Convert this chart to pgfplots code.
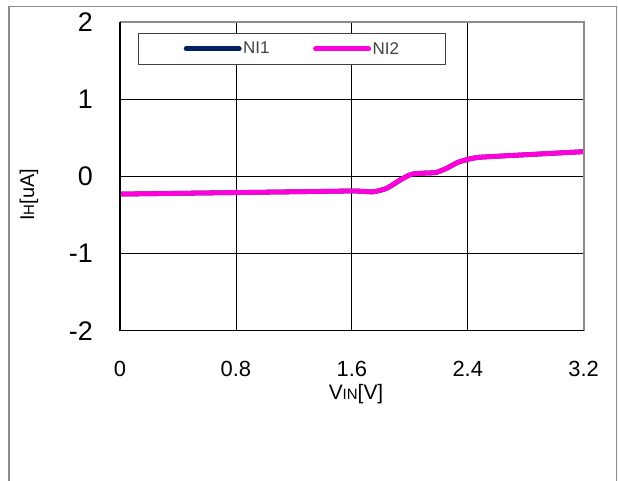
\documentclass[border=0pt]{standalone}
\usepackage{fontspec}
\setmainfont{Liberation Sans}
\usepackage{pgfplots}
\pgfplotsset{compat=1.18}
\definecolor{navyline}{HTML}{002060}
\definecolor{magline}{HTML}{FF00DD}
\definecolor{framegray}{HTML}{8C8C8C}
\begin{document}
\begin{tikzpicture}
\useasboundingbox (0,0) rectangle (618bp,481bp);
\fill[white] (0,0) rectangle (618bp,481bp);
\draw[framegray, line width=1.8bp] (9bp,-5bp) -- (9bp,474.5bp) -- (616.5bp,474.5bp) -- (616.5bp,-5bp);
\begin{axis}[
  at={(120bp,150.3bp)}, anchor=south west,
  scale only axis, width=463.7bp, height=308.7bp,
  xmin=0, xmax=3.2, ymin=-2, ymax=2,
  xtick={0,0.8,1.6,2.4,3.2}, xticklabels={0,0.8,1.6,2.4,3.2},
  ytick={-2,-1,0,1,2}, yticklabels={-2,-1,0,1,2},
  major tick length=0pt,
  grid=major, grid style={black, line width=0.8bp},
  axis line style={draw=none},
  xticklabel style={font=\fontsize{22}{24}\selectfont, anchor=north, inner sep=0pt, yshift=-30bp},
  yticklabel style={font=\fontsize{27}{29}\selectfont, anchor=east, inner sep=0pt, xshift=-27bp},
  xlabel={V{\fontsize{15}{17}\selectfont IN}[V]},
  ylabel={I{\fontsize{15}{17}\selectfont H}[uA]},
  xlabel style={at={(rel axis cs:0.509,0)}, anchor=center, yshift=-63bp, font=\fontsize{21}{23}\selectfont},
  ylabel style={at={(rel axis cs:0,0.44)}, anchor=center, yshift=91bp, font=\fontsize{20}{22}\selectfont},
  legend columns=2,
  legend style={at={(rel axis cs:0.0395,0.965)}, anchor=north west,
    draw=black!75, line width=0.8bp, fill=white,
    inner xsep=45bp, inner ysep=7.5bp,
    font=\fontsize{17}{19}\selectfont, text=black!75,
    nodes={inner sep=1.5bp},
    /tikz/every even column/.append style={column sep=42bp}},
  legend image code/.code={\draw[#1, line width=5bp, line cap=round] (0bp,0bp) -- (53bp,0bp);},
  after end axis/.code={
    \draw[framegray, line width=2bp] (rel axis cs:0,1) -- (rel axis cs:1,1) -- (rel axis cs:1,0);
    \draw[black, line width=1.2bp] (rel axis cs:0,1) -- (rel axis cs:0,0) -- (rel axis cs:1,0);
  },
]
\addplot[navyline, line width=4.8bp, line join=round, smooth, tension=0.4] coordinates {
(0,-0.23) (0.4,-0.22) (0.8,-0.21) (1.2,-0.20) (1.6,-0.19) (1.68,-0.195) (1.75,-0.2)
(1.84,-0.155) (1.94,-0.04) (2.01,0.026) (2.08,0.04) (2.15,0.045) (2.19,0.055)
(2.26,0.11) (2.33,0.18) (2.40,0.22) (2.47,0.245) (2.6,0.26) (2.8,0.28) (3.0,0.30) (3.2,0.32)
};
\addlegendentry{NI1}
\addplot[magline, line width=4.8bp, line join=round, smooth, tension=0.4] coordinates {
(0,-0.23) (0.4,-0.22) (0.8,-0.21) (1.2,-0.20) (1.6,-0.19) (1.68,-0.195) (1.75,-0.2)
(1.84,-0.155) (1.94,-0.04) (2.01,0.026) (2.08,0.04) (2.15,0.045) (2.19,0.055)
(2.26,0.11) (2.33,0.18) (2.40,0.22) (2.47,0.245) (2.6,0.26) (2.8,0.28) (3.0,0.30) (3.2,0.32)
};
\addlegendentry{NI2}
\end{axis}
\end{tikzpicture}
\end{document}
